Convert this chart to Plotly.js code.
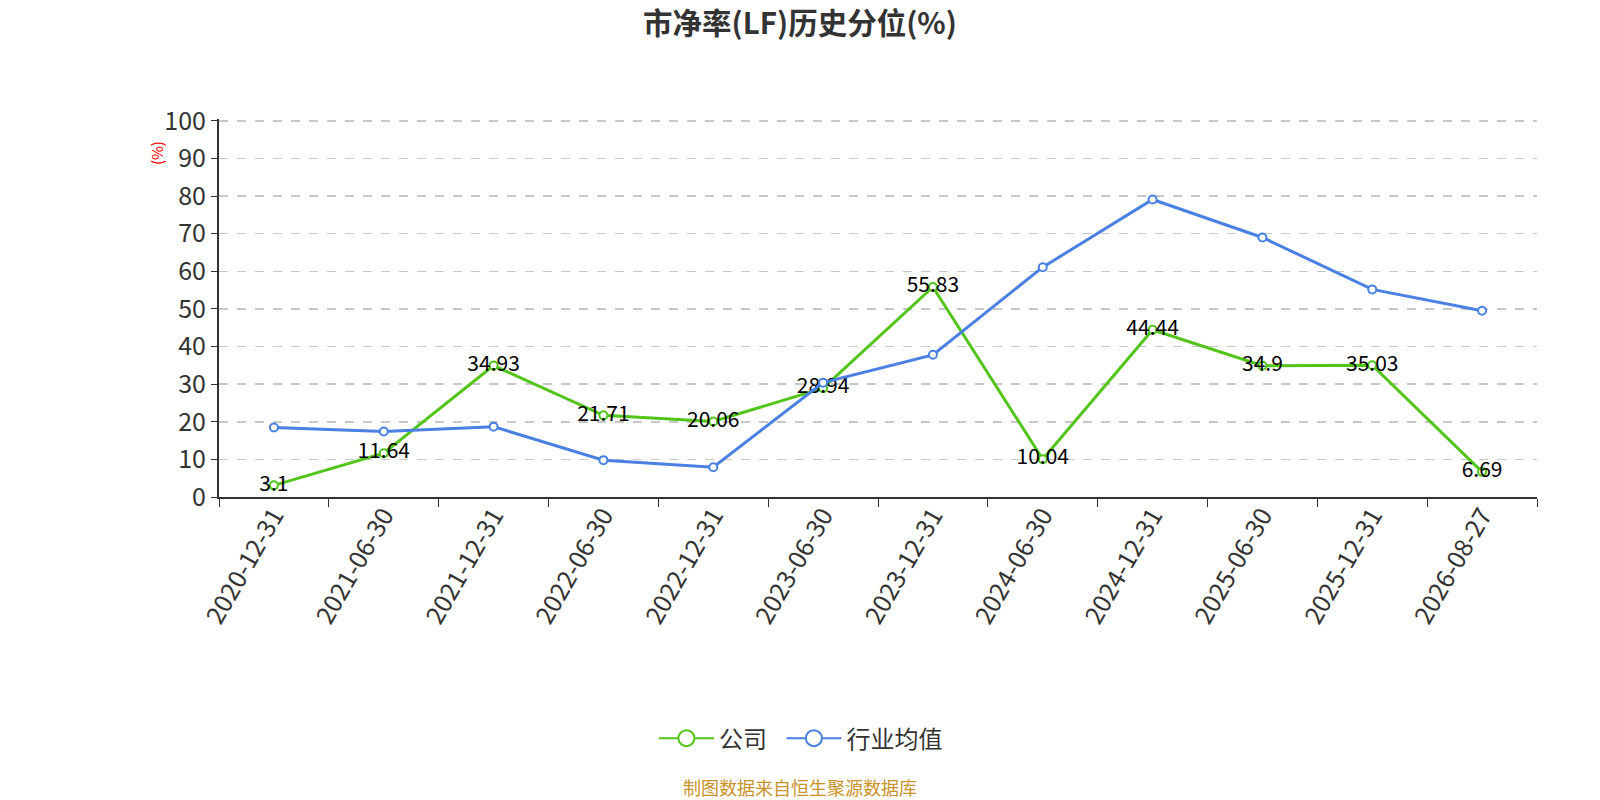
<!DOCTYPE html>
<html>
<head>
<meta charset="utf-8">
<script src="https://cdn.plot.ly/plotly-3.0.1.min.js"></script>
<style>
  html, body { margin: 0; padding: 0; background: #fff; width: 1600px; height: 800px; overflow: hidden; }
  #chart { width: 1600px; height: 800px; }
</style>
</head>
<body>
<div id="chart"></div>
<script>
'use strict'

// 报告期
const dates = ['2020-12-31', '2021-06-30', '2021-12-31', '2022-06-30', '2022-12-31', '2023-06-30',
  '2023-12-31', '2024-06-30', '2024-12-31', '2025-06-30', '2025-12-31', '2026-08-27']
// 公司 市净率历史分位
const company = [3.1, 11.64, 34.93, 21.71, 20.06, 28.94, 55.83, 10.04, 44.44, 34.9, 35.03, 6.69]
// 行业均值
const industry = [18.5, 17.4, 18.7, 9.8, 7.9, 30.4, 37.8, 61.1, 79.1, 69.0, 55.2, 49.5]

const FONT = '"Noto Sans CJK SC", "Noto Sans", sans-serif'
const GREEN = '#52C41A'
const BLUE = '#4A80E2'

function series (name, y, color, withText) {
  const t = {
    x: dates,
    y: y,
    name: name,
    type: 'scatter',
    mode: withText ? 'lines+markers+text' : 'lines+markers',
    line: {color: color, width: 3},
    marker: {size: 8, color: '#fff', line: {color: color, width: 2}},
    cliponaxis: false,
    showlegend: false
  }
  if (withText) {
    t.text = y.map(String)
    t.textposition = 'middle center'
    t.textfont = {family: FONT, size: 21, color: '#000'}
  }
  return t
}

// legend-only entries, so the legend symbol can be drawn larger;
// each one in its own legend so the spacing can be set
function legendEntry (name, color, legendId) {
  return {
    x: [null],
    y: [null],
    name: name,
    type: 'scatter',
    mode: 'lines+markers',
    legend: legendId,
    line: {color: color, width: 2},
    marker: {size: 16, color: '#fff', line: {color: color, width: 2}}
  }
}

const traces = [
  series('公司', company, GREEN, true),
  series('行业均值', industry, BLUE, false),
  legendEntry('公司', GREEN, 'legend'),
  legendEntry('行业均值', BLUE, 'legend2')
]

const legendBase = {
  orientation: 'h',
  xanchor: 'left',
  y: -0.639,
  yanchor: 'middle',
  font: {family: FONT, size: 24, color: '#333'},
  itemwidth: 55,
  bgcolor: 'rgba(0,0,0,0)'
}

const layout = {
  width: 1600,
  height: 800,
  // range goes to 100.5 so the 100 grid line is drawn
  margin: {l: 219, r: 63, t: 119, b: 303},
  paper_bgcolor: '#fff',
  plot_bgcolor: '#fff',
  font: {family: FONT, color: '#333'},
  title: {
    text: '<b>市净率(LF)历史分位(%)</b>',
    font: {family: FONT, size: 29.5, color: '#333'},
    x: 0.5,
    xanchor: 'center',
    y: 0.97,
    yanchor: 'middle'
  },
  showlegend: true,
  legend: Object.assign({}, legendBase, {x: 0.33}),
  legend2: Object.assign({}, legendBase, {x: 0.4267}),
  xaxis: {
    type: 'category',
    range: [-0.5, 11.5],
    tickson: 'boundaries',
    ticks: 'outside',
    ticklen: 8,
    tickcolor: '#333',
    tickangle: -60,
    ticklabelstandoff: -8,
    tickfont: {family: FONT, size: 25, color: '#333'},
    showline: true,
    linecolor: '#333',
    linewidth: 2,
    showgrid: false,
    zeroline: false
  },
  yaxis: {
    range: [0, 100.5],
    tickvals: [0, 10, 20, 30, 40, 50, 60, 70, 80, 90, 100],
    ticks: 'outside',
    ticklen: 6,
    tickcolor: '#333',
    tickfont: {family: FONT, size: 25, color: '#333'},
    showline: true,
    linecolor: '#333',
    linewidth: 2,
    showgrid: true,
    gridcolor: '#c8c8c8',
    griddash: 'dash',
    gridwidth: 1.5,
    zeroline: false
  },
  annotations: [
    {
      text: '(%)',
      xref: 'paper', yref: 'paper',
      x: -0.0473, y: 0.909,
      xanchor: 'center', yanchor: 'middle',
      textangle: -90,
      showarrow: false,
      font: {family: FONT, size: 15, color: '#ff0000'}
    },
    {
      text: '制图数据来自恒生聚源数据库',
      xref: 'paper', yref: 'paper',
      x: 0.441, y: -0.7668,
      xanchor: 'center', yanchor: 'middle',
      showarrow: false,
      font: {family: FONT, size: 18, color: '#C8922A'}
    }
  ]
}

const config = {displaylogo: false, displayModeBar: false, staticPlot: true}

Plotly.newPlot('chart', traces, layout, config)
</script>
</body>
</html>
